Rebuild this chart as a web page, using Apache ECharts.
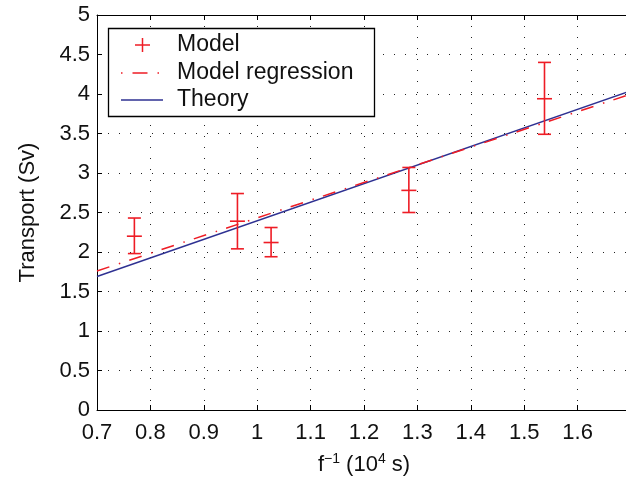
<!DOCTYPE html>
<html><head><meta charset="utf-8">
<script src="https://cdn.jsdelivr.net/npm/echarts@6/dist/echarts.min.js"></script>
<style>html,body{margin:0;padding:0;background:#fff}#c{width:626px;height:489px}</style>
</head><body><div id="c"></div>
<script>
// Model points (x = f^-1 in 10^4 s), transport with error bar bounds
var modelX    = [0.77, 0.963, 1.026, 1.284, 1.538];
var modelY    = [2.20, 2.39, 2.12, 2.78, 3.94];
var modelLow  = [1.98, 2.04, 1.94, 2.50, 3.49];
var modelHigh = [2.43, 2.74, 2.31, 3.07, 4.40];
// Fitted lines (end points)
var regX   = [0.7, 1.7];
var regY   = [1.76, 4.00];
var theoX  = [0.7, 1.7];
var theoY  = [1.69, 4.04];
var legendNames = ['Model', 'Model regression', 'Theory'];

var RED = '#ee1c25', BLUE = '#2e3192';
var FONT = 'Liberation Sans, Arial, Helvetica, sans-serif';

var chart = echarts.init(document.getElementById('c'), null, {renderer: 'canvas'});

function zip(a, b) { return a.map(function (v, i) { return [v, b[i]]; }); }
var errData = modelX.map(function (x, i) { return [x, modelY[i], modelLow[i], modelHigh[i]]; });

function fmt(v) { return String(+(+v).toFixed(2)); }

var gridLine = {show: true, lineStyle: {color: '#222', width: 1, type: [1, 10]}};

chart.setOption({
  animation: false,
  backgroundColor: '#fff',
  grid: {left: 97, right: -5, top: 15, bottom: 79, containLabel: false, outerBoundsMode: 'none'},
  xAxis: [{
    type: 'value', min: 0.7, max: 1.7, interval: 0.1,
    axisLine: {show: true, onZero: false, lineStyle: {color: '#000', width: 1}},
    axisTick: {show: true, inside: true, length: 5, lineStyle: {color: '#000'}},
    axisLabel: {color: '#111', fontSize: 22, fontFamily: FONT, margin: 12, formatter: fmt, showMaxLabel: false},
    splitLine: gridLine,
    name: '{n|f}{s|−1}{n| (10}{s|4}{n| s)}',
    nameLocation: 'middle', nameGap: 42,
    nameTextStyle: {rich: {
      n: {fontSize: 22, fontFamily: FONT, color: '#111'},
      s: {fontSize: 14, fontFamily: FONT, color: '#111', verticalAlign: 'bottom', padding: [0, 0, 12, 0]}
    }}
  }, {
    type: 'value', position: 'top', min: 0.7, max: 1.7, interval: 0.1,
    axisLine: {show: true, onZero: false, lineStyle: {color: '#000', width: 1}},
    axisTick: {show: true, inside: true, length: 5, lineStyle: {color: '#000'}},
    axisLabel: {show: false}, splitLine: {show: false}
  }],
  yAxis: [{
    type: 'value', min: 0, max: 5, interval: 0.5,
    axisLine: {show: true, onZero: false, lineStyle: {color: '#000', width: 1}},
    axisTick: {show: true, inside: true, length: 5, lineStyle: {color: '#000'}},
    axisLabel: {color: '#111', fontSize: 22, fontFamily: FONT, margin: 7, formatter: fmt},
    splitLine: gridLine,
    name: 'Transport (Sv)', nameLocation: 'middle', nameGap: 58, nameRotate: 90,
    nameTextStyle: {fontSize: 22, fontFamily: FONT, color: '#111'}
  }],
  series: [{
    name: legendNames[2], type: 'line', data: zip(theoX, theoY), showSymbol: false,
    lineStyle: {color: BLUE, width: 1.5}, z: 3
  }, {
    name: legendNames[1], type: 'line', data: zip(regX, regY), showSymbol: false,
    lineStyle: {color: RED, width: 1.5, type: [13, 10, 1.5, 9.5]}, z: 4
  }, {
    name: legendNames[0], type: 'custom', data: errData, z: 5,
    encode: {x: 0, y: [1, 2, 3]},
    renderItem: function (params, api) {
      var x = api.value(0);
      var c = api.coord([x, api.value(1)]);
      var lo = api.coord([x, api.value(2)]);
      var hi = api.coord([x, api.value(3)]);
      var st = {stroke: RED, lineWidth: 1.6};
      var cap = 6.5, pl = 7.5;
      return {type: 'group', children: [
        {type: 'line', shape: {x1: c[0], y1: hi[1], x2: c[0], y2: lo[1]}, style: st},
        {type: 'line', shape: {x1: c[0] - cap, y1: hi[1], x2: c[0] + cap, y2: hi[1]}, style: st},
        {type: 'line', shape: {x1: c[0] - cap, y1: lo[1], x2: c[0] + cap, y2: lo[1]}, style: st},
        {type: 'line', shape: {x1: c[0] - pl, y1: c[1], x2: c[0] + pl, y2: c[1]}, style: st}
      ]};
    }
  }],
  graphic: [
    {type: 'rect', shape: {x: 108.5, y: 28.5, width: 266, height: 88},
     style: {fill: '#fff', stroke: '#000', lineWidth: 1.3}, z: 100},
    {type: 'line', shape: {x1: 135, y1: 45, x2: 150, y2: 45}, style: {stroke: RED, lineWidth: 1.5}, z: 101},
    {type: 'line', shape: {x1: 142.5, y1: 38, x2: 142.5, y2: 52}, style: {stroke: RED, lineWidth: 1.5}, z: 101},
    {type: 'line', shape: {x1: 121, y1: 73, x2: 163, y2: 73}, style: {stroke: RED, lineWidth: 1.5, lineDash: [1.5, 10, 15, 10]}, z: 101},
    {type: 'line', shape: {x1: 121, y1: 100, x2: 163, y2: 100}, style: {stroke: BLUE, lineWidth: 1.5}, z: 101},
    {type: 'text', x: 177, y: 45, style: {text: legendNames[0], fontSize: 23, fontFamily: FONT, fill: '#111', verticalAlign: 'middle'}, z: 101},
    {type: 'text', x: 177, y: 73, style: {text: legendNames[1], fontSize: 23, fontFamily: FONT, fill: '#111', verticalAlign: 'middle'}, z: 101},
    {type: 'text', x: 177, y: 100, style: {text: legendNames[2], fontSize: 23, fontFamily: FONT, fill: '#111', verticalAlign: 'middle'}, z: 101}
  ]
});
</script></body></html>
